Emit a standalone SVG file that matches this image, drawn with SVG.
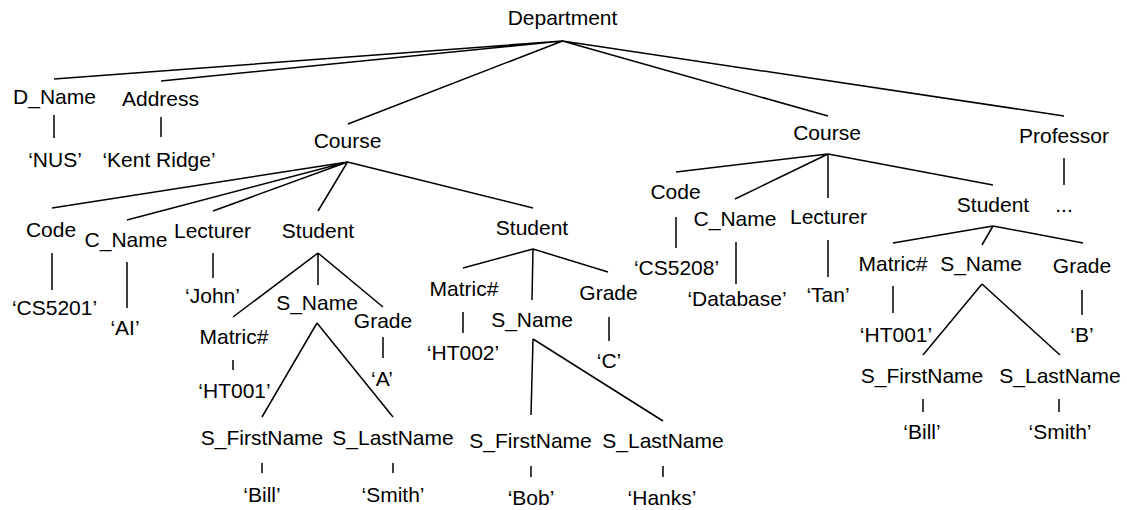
<svg xmlns="http://www.w3.org/2000/svg" width="1127" height="510" viewBox="0 0 1127 510">
  <style>
    text { font-family: "Liberation Sans", Arial, sans-serif; font-size: 21px; fill: #000; text-anchor: middle; }
    .edge { stroke: #000; stroke-width: 1.5; fill: none; stroke-linecap: butt; }
  </style>
  <rect width="1127" height="510" fill="#fff"/>

  <!-- tree edges -->
  <g id="connectors" class="edge">
    <!-- Department -->
    <path class="edge" d="M562.5,41 L54,79 M562.5,41 L161,81 M562.5,41 L348,124 M562.5,41 L828,116 M562.5,41 L1064,116"/>
    <path class="edge" d="M54,115 V138 M161,117 V137"/>
    <!-- first Course -->
    <path class="edge" d="M347.5,162 L52,208 M347.5,162 L127,220 M347.5,162 L213,211 M347.5,162 L318,211 M347.5,162 L533,208"/>
    <path class="edge" d="M52,253 V290 M127,262 V308 M213,253 V278"/>
    <!-- first Student -->
    <path class="edge" d="M318,253 L233,317 M318,253 L318,285 M318,253 L383,307"/>
    <path class="edge" d="M233,360 V370 M383,337 V358"/>
    <path class="edge" d="M317,323 L262,417 M317,323 L393,417"/>
    <path class="edge" d="M262,463 V473 M393,463 V473"/>
    <!-- second Student -->
    <path class="edge" d="M533,249 L463,268 M533,249 L532,300 M533,249 L608,272"/>
    <path class="edge" d="M463,312 V333 M609,317 V341"/>
    <path class="edge" d="M533,339 L531,415 M533,339 L663,421"/>
    <path class="edge" d="M531,466 V477 M663,466 V477"/>
    <!-- second Course -->
    <path class="edge" d="M828,154 L676,172 M828,154 L735,199 M828,154 L828,198 M828,154 L993,185"/>
    <path class="edge" d="M676,217 V248 M736,242 V284 M828,240 V277 M1064,158 V185"/>
    <!-- third Student -->
    <path class="edge" d="M993,226 L893,243 M993,226 L982,245 M993,226 L1083,243"/>
    <path class="edge" d="M893,286 V313 M1082,290 V315"/>
    <path class="edge" d="M982,284 L923,355 M982,284 L1060,355"/>
    <path class="edge" d="M923,399 V412 M1059,399 V412"/>
  </g>

  <g id="department"><text x="562.5" y="25">Department</text></g>
  <g id="d-name"><text x="54.5" y="104">D_Name</text></g>
  <g id="address"><text x="160.5" y="106">Address</text></g>
  <g id="nus"><text x="55" y="167">‘NUS’</text></g>
  <g id="kent-ridge"><text x="159" y="167">‘Kent Ridge’</text></g>

  <g id="course-1"><text x="347.5" y="148">Course</text></g>
  <g id="code-1"><text x="51" y="237">Code</text></g>
  <g id="c-name-1"><text x="126" y="247">C_Name</text></g>
  <g id="lecturer-1"><text x="212.5" y="238">Lecturer</text></g>
  <g id="cs5201"><text x="54.5" y="315">‘CS5201’</text></g>
  <g id="ai"><text x="125" y="335">‘AI’</text></g>
  <g id="john"><text x="212.5" y="303">‘John’</text></g>

  <g id="student-1"><text x="318" y="238">Student</text></g>
  <g id="matric-1"><text x="234" y="344">Matric#</text></g>
  <g id="s-name-1"><text x="317" y="310">S_Name</text></g>
  <g id="grade-1"><text x="383" y="328">Grade</text></g>
  <g id="ht001-1"><text x="234.5" y="398">‘HT001’</text></g>
  <g id="grade-a"><text x="382" y="386">‘A’</text></g>
  <g id="s-firstname-1"><text x="262" y="445">S_FirstName</text></g>
  <g id="s-lastname-1"><text x="393" y="445">S_LastName</text></g>
  <g id="bill-1"><text x="262" y="502">‘Bill’</text></g>
  <g id="smith-1"><text x="393" y="502">‘Smith’</text></g>

  <g id="student-2"><text x="532" y="235">Student</text></g>
  <g id="matric-2"><text x="464" y="296">Matric#</text></g>
  <g id="s-name-2"><text x="532" y="327">S_Name</text></g>
  <g id="grade-2"><text x="608.5" y="300">Grade</text></g>
  <g id="ht002"><text x="463" y="360">‘HT002’</text></g>
  <g id="grade-c"><text x="609" y="368">‘C’</text></g>
  <g id="s-firstname-2"><text x="530.5" y="448">S_FirstName</text></g>
  <g id="s-lastname-2"><text x="663" y="448">S_LastName</text></g>
  <g id="bob"><text x="531" y="505">‘Bob’</text></g>
  <g id="hanks"><text x="662" y="505">‘Hanks’</text></g>

  <g id="course-2"><text x="827" y="140">Course</text></g>
  <g id="professor"><text x="1064" y="143">Professor</text></g>
  <g id="ellipsis"><text x="1064" y="212">...</text></g>
  <g id="code-2"><text x="675.5" y="199">Code</text></g>
  <g id="c-name-2"><text x="735" y="226">C_Name</text></g>
  <g id="lecturer-2"><text x="828.5" y="224">Lecturer</text></g>
  <g id="cs5208"><text x="676.5" y="275">‘CS5208’</text></g>
  <g id="database"><text x="737" y="306">‘Database’</text></g>
  <g id="tan"><text x="828" y="302">‘Tan’</text></g>

  <g id="student-3"><text x="993" y="212">Student</text></g>
  <g id="matric-3"><text x="893" y="271">Matric#</text></g>
  <g id="s-name-3"><text x="981" y="271">S_Name</text></g>
  <g id="grade-3"><text x="1082" y="273">Grade</text></g>
  <g id="ht001-3"><text x="896" y="342">‘HT001’</text></g>
  <g id="grade-b"><text x="1082" y="342">‘B’</text></g>
  <g id="s-firstname-3"><text x="922" y="383">S_FirstName</text></g>
  <g id="s-lastname-3"><text x="1060" y="383">S_LastName</text></g>
  <g id="bill-3"><text x="922" y="439">‘Bill’</text></g>
  <g id="smith-3"><text x="1060" y="439">‘Smith’</text></g>
</svg>
